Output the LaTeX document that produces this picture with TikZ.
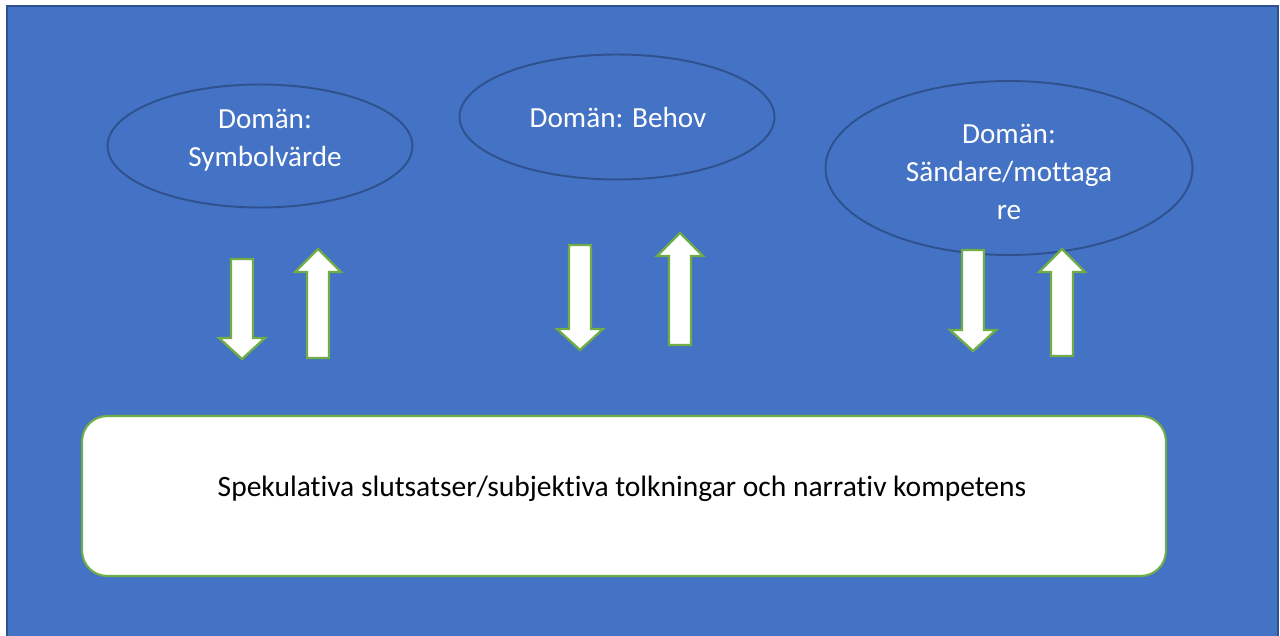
\documentclass[tikz,border=0pt]{standalone}
\usepackage{fontspec}
\setmainfont[Ligatures={NoCommon}]{Carlito}
\usetikzlibrary{shapes.geometric}
\definecolor{bgblue}{HTML}{4472C4}
\definecolor{edgeblue}{HTML}{2F528F}
\definecolor{leafgreen}{HTML}{70AD47}
\tikzset{
  domainnode/.style={ellipse, draw=edgeblue, line width=1.1pt, fill=bgblue, inner sep=0pt},
  domaintext/.style={text=white, align=center, inner sep=0pt, font=\fontsize{16.6}{21.5}\selectfont},
  resultbox/.style={rectangle, rounded corners=0.5cm, draw=leafgreen, line width=1.2pt,
    fill=white, minimum width=21.68cm, minimum height=3.2cm},
  resulttext/.style={inner sep=0pt, font=\fontsize{16.8}{20}\selectfont},
  blockarrow/.style={draw=leafgreen, line width=1.3pt, fill=white, line join=miter}
}
\begin{document}
\begin{tikzpicture}[x=0.02cm, y=-0.02cm]
        \useasboundingbox (0,0) rectangle (1280,635);
        % Background panel
        \draw[edgeblue, line width=1.4pt, fill=bgblue] (7,6) rectangle (1278,640);

        % Domains
        \node[domainnode, minimum width=6.1cm, minimum height=2.46cm] (symbol) at (260,146) {};
        \node[domaintext] (symboltext) at (265,140) {Domän:\\Symbolvärde};
        \node[domainnode, minimum width=6.3cm, minimum height=2.5cm] (behov) at (617,117) {};
        \node[domaintext] (behovtext) at (618,117) {Domän: Behov};
        \node[domainnode, minimum width=7.34cm, minimum height=3.48cm] (sandare) at (1009,168) {};
        \node[domaintext] (sandaretext) at (1009,172) {Domän:\\Sändare/mottaga\\re};

        % Result box
        \node[resultbox] (tolkning) at (624,496) {};
        \node[resulttext] (tolkningtext) at (622,489) {Spekulativa slutsatser/subjektiva tolkningar och narrativ kompetens};

        % Down arrows
        \foreach \x/\ya/\yb in {242/259/359, 580/245/350, 973/250/351}
          \draw[blockarrow] ({\x-11},\ya) -- ({\x+11},\ya) -- ({\x+11},{\yb-21}) -- ({\x+23},{\yb-21})
            -- (\x,\yb) -- ({\x-23},{\yb-21}) -- ({\x-11},{\yb-21}) -- cycle;

        % Up arrows
        \foreach \x/\ya/\yb in {318/249/358, 680/233/345, 1062/249/356}
          \draw[blockarrow] ({\x-11},\yb) -- ({\x+11},\yb) -- ({\x+11},{\ya+23}) -- ({\x+23},{\ya+23})
            -- (\x,\ya) -- ({\x-23},{\ya+23}) -- ({\x-11},{\ya+23}) -- cycle;
    \end{tikzpicture}
\end{document}
